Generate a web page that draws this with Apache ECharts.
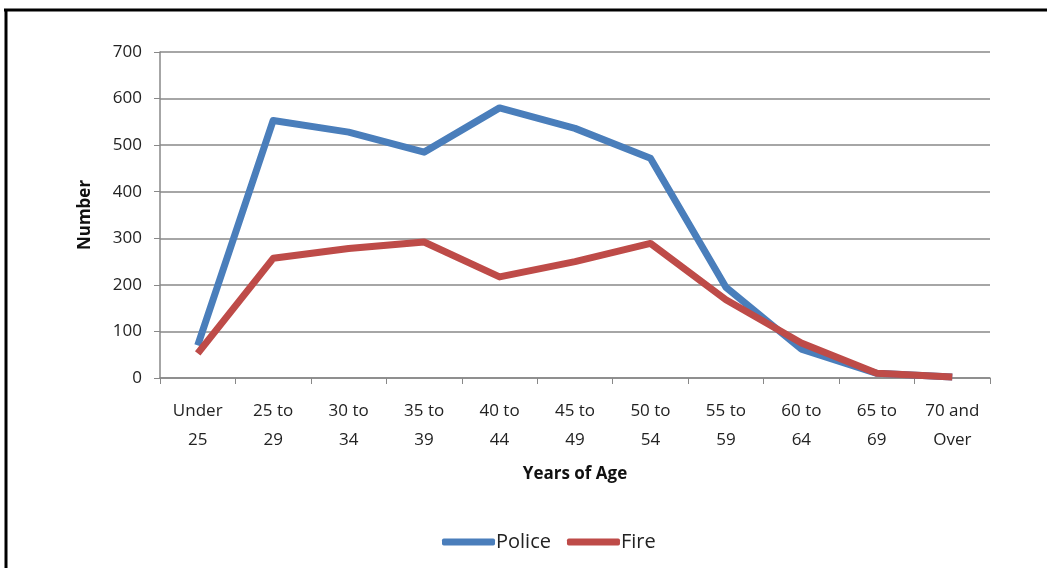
<!DOCTYPE html>
<html>
<head>
<meta charset="utf-8">
<script src="https://cdn.jsdelivr.net/npm/echarts@6/dist/echarts.min.js"></script>
<style>
  html, body { margin: 0; padding: 0; background: #fff; }
  #chart { width: 1047px; height: 568px; }
</style>
</head>
<body>
<div id="chart"></div>
<script>
const ageGroups = ['Under\n25', '25 to\n29', '30 to\n34', '35 to\n39', '40 to\n44', '45 to\n49', '50 to\n54', '55 to\n59', '60 to\n64', '65 to\n69', '70 and\nOver'];
const police = [70, 553, 528, 485, 580, 536, 472, 195, 62, 10, 2];
const fire = [53, 257, 278, 292, 217, 250, 289, 168, 75, 10, 2];

const chart = echarts.init(document.getElementById('chart'));
const font = '"Open Sans", Lato, sans-serif';

const option = {
  animation: false,
  textStyle: { fontFamily: font },
  grid: { left: 160, right: 57, top: 52, bottom: 190 },
  // frame on the top and left edges
  graphic: [
    { type: 'line', shape: { x1: 4, y1: 10, x2: 1047, y2: 10 }, style: { stroke: '#000', lineWidth: 3 } },
    { type: 'line', shape: { x1: 6, y1: 10, x2: 6, y2: 568 }, style: { stroke: '#000', lineWidth: 3 } }
  ],
  legend: {
    top: 527,
    left: 437,
    icon: 'roundRect',
    itemWidth: 53,
    itemHeight: 7,
    itemGap: 16,
    textStyle: { fontSize: 20, color: '#222', fontFamily: font, padding: [0, 0, 0, -4] },
    data: ['Police', 'Fire']
  },
  xAxis: {
    type: 'category',
    data: ageGroups,
    boundaryGap: true,
    name: 'Years of Age',
    nameLocation: 'middle',
    nameGap: 88,
    nameTextStyle: { fontSize: 17, fontWeight: 'bold', color: '#111', fontFamily: font },
    axisLine: { lineStyle: { color: '#888', width: 1.5 } },
    axisTick: { show: true, alignWithLabel: false, length: 6, lineStyle: { color: '#888' } },
    axisLabel: { fontSize: 17, color: '#222', lineHeight: 29, margin: 19, interval: 0 }
  },
  yAxis: {
    type: 'value',
    min: 0,
    max: 700,
    interval: 100,
    name: 'Number',
    nameLocation: 'middle',
    nameGap: 66,
    nameTextStyle: { fontSize: 17, fontWeight: 'bold', color: '#111', fontFamily: font },
    axisLine: { show: true, lineStyle: { color: '#888', width: 1.5 } },
    axisTick: { show: true, length: 6, lineStyle: { color: '#888' } },
    axisLabel: { fontSize: 17, color: '#222', margin: 18 },
    splitLine: { lineStyle: { color: '#888', width: 1.5 } }
  },
  series: [
    {
      name: 'Police',
      type: 'line',
      data: police,
      symbol: 'none',
      color: '#4a7ebb',
      lineStyle: { width: 7, color: '#4a7ebb', join: 'round' }
    },
    {
      name: 'Fire',
      type: 'line',
      data: fire,
      symbol: 'none',
      color: '#be4b48',
      lineStyle: { width: 7, color: '#be4b48', join: 'round' }
    }
  ]
};

chart.setOption(option);
</script>
</body>
</html>
